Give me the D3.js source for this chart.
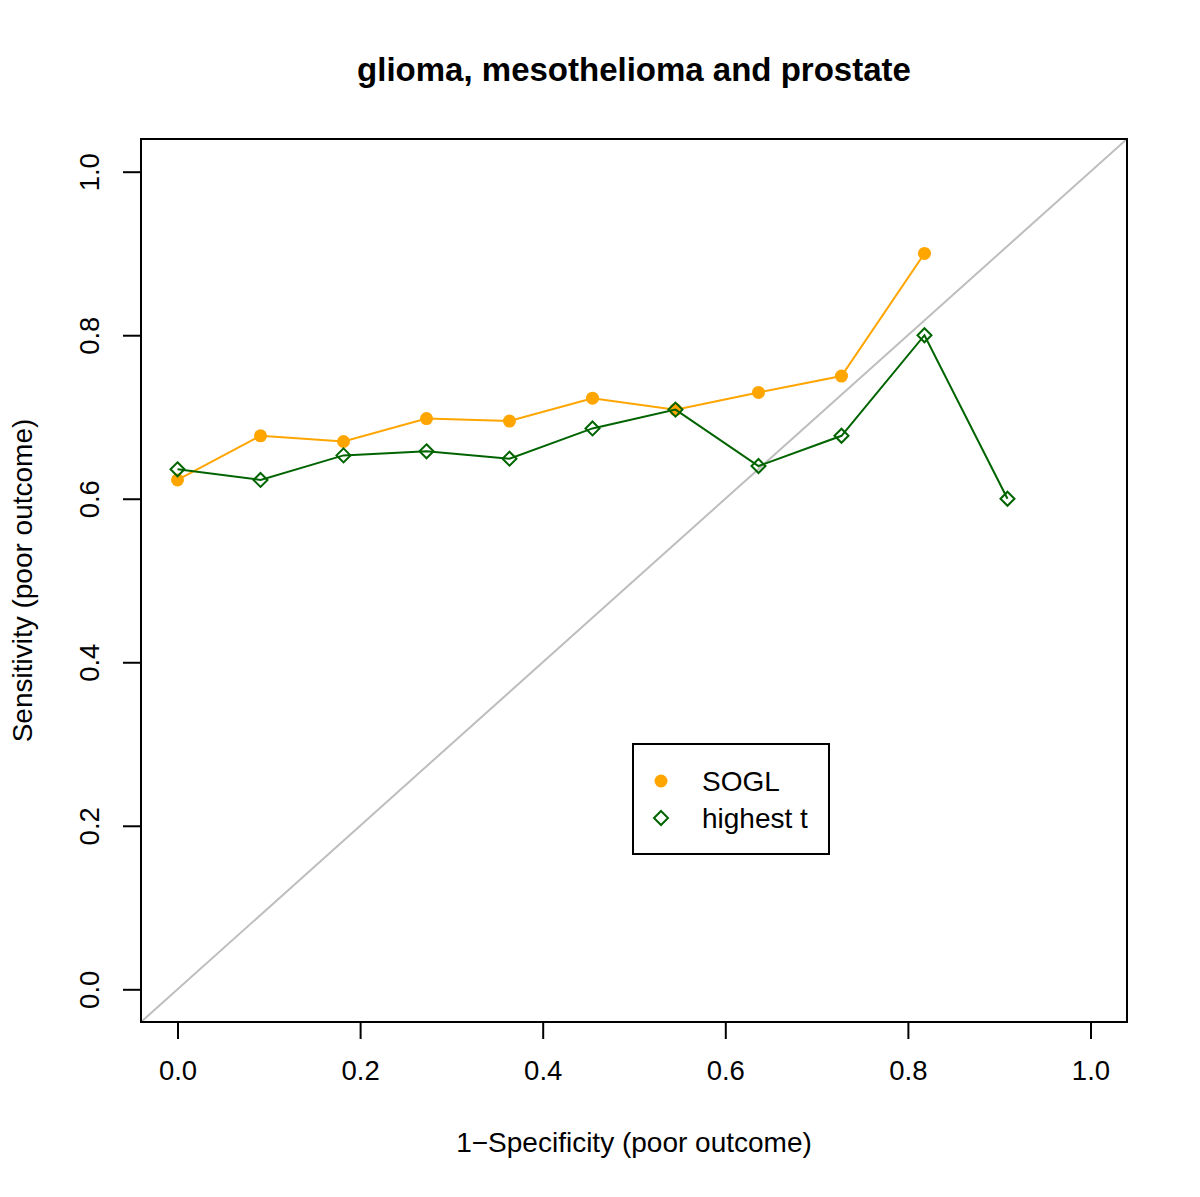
<!DOCTYPE html>
<html><head><meta charset="utf-8">
<script src="https://cdn.jsdelivr.net/npm/d3@7"></script>
<style>body{margin:0;background:#fff}svg{display:block}text{font-family:"Liberation Sans",Arial,Helvetica,sans-serif}</style>
</head><body>
<svg id="c" width="1200" height="1197"></svg>
<script>
const xValues = [0, 1/11, 2/11, 3/11, 4/11, 5/11, 6/11, 7/11, 8/11, 9/11, 10/11];
const soglValues = [0.623, 0.677, 0.670, 0.698, 0.695, 0.723, 0.709, 0.730, 0.750, 0.900];
const highestTValues = [0.636, 0.623, 0.653, 0.658, 0.649, 0.686, 0.709, 0.640, 0.677, 0.800, 0.600];
const tickValues = [0, 0.2, 0.4, 0.6, 0.8, 1.0];
const titleText = "glioma, mesothelioma and prostate";
const xLabel = "1\u2212Specificity (poor outcome)";
const yLabel = "Sensitivity (poor outcome)";
const legendLabels = ["SOGL", "highest t"];

const svg = d3.select("#c");
const L = 141, R = 1127, T = 139, B = 1022;
const x = d3.scaleLinear().domain([-0.04, 1.04]).range([L, R]);
const y = d3.scaleLinear().domain([-0.04, 1.04]).range([B, T]);
const FS = 28, TFS = 27.5;

svg.append("defs").append("clipPath").attr("id","clip")
  .append("rect").attr("x",L).attr("y",T).attr("width",R-L).attr("height",B-T);

// diagonal
svg.append("line").attr("clip-path","url(#clip)")
  .attr("x1",x(-0.04)).attr("y1",y(-0.04)).attr("x2",x(1.04)).attr("y2",y(1.04))
  .attr("stroke","#bebebe").attr("stroke-width",2);

const line = d3.line().x(d=>x(d[0])).y(d=>y(d[1]));
const sogl = soglValues.map((v,i)=>[xValues[i],v]);
const ht = highestTValues.map((v,i)=>[xValues[i],v]);

svg.append("path").attr("d",line(sogl)).attr("fill","none").attr("stroke","#FFA500").attr("stroke-width",2);
svg.selectAll(".sp").data(sogl).enter().append("circle")
  .attr("cx",d=>x(d[0])).attr("cy",d=>y(d[1])).attr("r",6.5).attr("fill","#FFA500");

svg.append("path").attr("d",line(ht)).attr("fill","none").attr("stroke","#006400").attr("stroke-width",2);
const dia = s => `M0,${-s}L${s},0L0,${s}L${-s},0Z`;
svg.selectAll(".hp").data(ht).enter().append("path")
  .attr("transform",d=>`translate(${x(d[0])},${y(d[1])})`)
  .attr("d",dia(7)).attr("fill","none").attr("stroke","#006400").attr("stroke-width",2);

// box
svg.append("rect").attr("x",L).attr("y",T).attr("width",R-L).attr("height",B-T)
  .attr("fill","none").attr("stroke","#000").attr("stroke-width",2);

// x axis
const xa = svg.append("g").attr("transform",`translate(0,${B})`)
  .call(d3.axisBottom(x).tickValues(tickValues).tickFormat(d3.format(".1f")).tickSize(17).tickPadding(21).tickSizeOuter(0));
xa.select(".domain").attr("d",`M${x(0)},0H${x(1)}`).attr("stroke-width",2);
xa.selectAll(".tick line").attr("stroke-width",2);
xa.selectAll("text").attr("font-size",TFS).attr("font-family","Liberation Sans, Arial, sans-serif").attr("fill","#000");

// y axis
const ya = svg.append("g").attr("transform",`translate(${L},0)`)
  .call(d3.axisLeft(y).tickValues(tickValues).tickFormat(d3.format(".1f")).tickSize(18).tickSizeOuter(0));
ya.select(".domain").attr("d",`M0,${y(0)}V${y(1)}`).attr("stroke-width",2);
ya.selectAll(".tick line").attr("stroke-width",2);
ya.selectAll("text").attr("font-size",TFS).attr("font-family","Liberation Sans, Arial, sans-serif").attr("fill","#000")
  .attr("x",0).attr("dy",0).attr("transform","translate(-42,0) rotate(-90)").attr("text-anchor","middle");

// titles
svg.append("text").attr("x",(L+R)/2).attr("y",81).attr("text-anchor","middle")
  .attr("font-size",33).attr("font-weight","bold").text(titleText);
svg.append("text").attr("x",(L+R)/2).attr("y",1152).attr("text-anchor","middle")
  .attr("font-size",FS).text(xLabel);
svg.append("text").attr("transform",`translate(32,${(T+B)/2}) rotate(-90)`).attr("text-anchor","middle")
  .attr("font-size",FS).text(yLabel);

// legend
const lg = svg.append("g");
lg.append("rect").attr("x",633).attr("y",744).attr("width",196).attr("height",110)
  .attr("fill","#fff").attr("stroke","#000").attr("stroke-width",2);
lg.append("circle").attr("cx",661).attr("cy",781).attr("r",6.5).attr("fill","#FFA500");
lg.append("path").attr("transform","translate(661,818)").attr("d",dia(7))
  .attr("fill","none").attr("stroke","#006400").attr("stroke-width",2);
lg.selectAll(".lt").data(legendLabels).enter().append("text")
  .attr("x",702).attr("y",(d,i)=>791+i*37).attr("font-size",FS).text(d=>d);
</script>
</body></html>
